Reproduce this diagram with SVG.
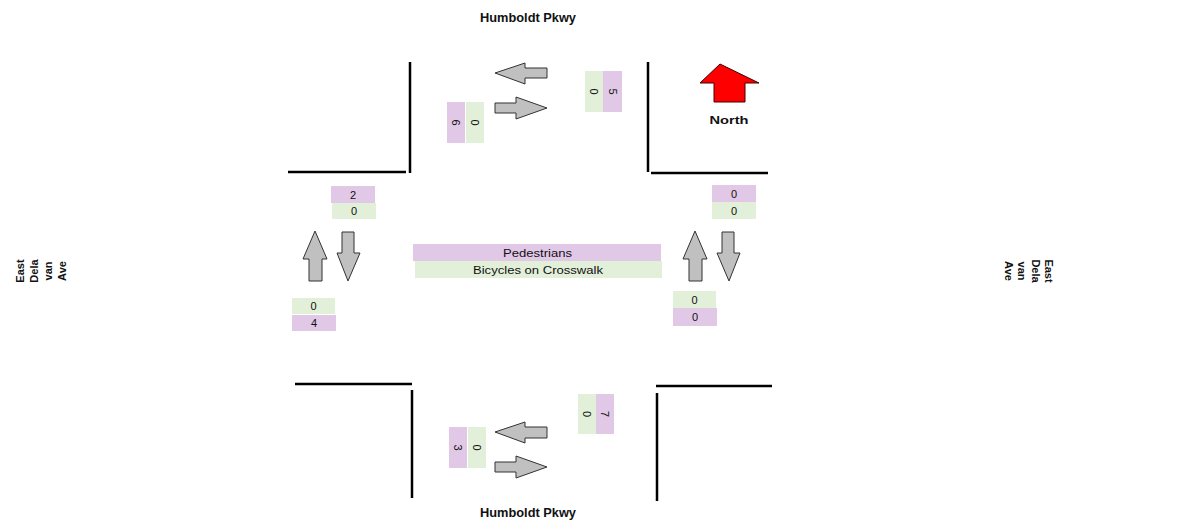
<svg xmlns="http://www.w3.org/2000/svg" width="1177" height="529" viewBox="0 0 1177 529">
<style>
text{font-family:"Liberation Sans",Arial,sans-serif;fill:#111;}
.lbl{font-weight:bold;text-anchor:middle;}
.num{font-size:11px;text-anchor:middle;}
.curb{stroke:#000;stroke-width:2.5;fill:none;}
.arr{fill:#c0c0c0;stroke:#333;stroke-width:1;}
.pk{fill:#e1c8e6;}
.gr{fill:#e2efd9;}
</style>
<rect width="1177" height="529" fill="#fff"/>
<g id="connectors">
<path class="curb" d="M410,62 V173 M288,172 H406"/>
<path class="curb" d="M648,62 V172 M651,173 H768"/>
<path class="curb" d="M295,384 H412 M412,390 V498"/>
<path class="curb" d="M656,386 H772 M657,393 V501"/>
</g>
<g id="labels">
<text class="lbl" x="528" y="22" font-size="12" textLength="96" lengthAdjust="spacingAndGlyphs">Humboldt Pkwy</text>
<text class="lbl" x="528" y="517" font-size="12" textLength="96" lengthAdjust="spacingAndGlyphs">Humboldt Pkwy</text>
<g font-size="11">
<text class="lbl" transform="translate(20,271) rotate(-90)" y="4">East</text>
<text class="lbl" transform="translate(34,271) rotate(-90)" y="4">Dela</text>
<text class="lbl" transform="translate(48,271) rotate(-90)" y="4">van</text>
<text class="lbl" transform="translate(62,271) rotate(-90)" y="4">Ave</text>
<text class="lbl" transform="translate(1049,271) rotate(90)" y="4">East</text>
<text class="lbl" transform="translate(1035.5,271) rotate(90)" y="4">Dela</text>
<text class="lbl" transform="translate(1022,271) rotate(90)" y="4">van</text>
<text class="lbl" transform="translate(1008.5,271) rotate(90)" y="4">Ave</text>
</g>
</g>
<g id="north">
<polygon points="720,64 759,83 745,83 745,102 714,102 714,83 700,83" fill="#ff0000" stroke="#400" stroke-width="1"/>
<text class="lbl" x="729" y="124" font-size="11.5" textLength="39" lengthAdjust="spacingAndGlyphs">North</text>
</g>
<g id="north-approach">
<polygon class="arr" points="495,73 525,63 525,68 547,68 547,78 525,78 525,84"/>
<polygon class="arr" points="495,103 516,103 516,97 547,108 516,119 516,113 495,113"/>
<rect class="pk" x="447" y="102" width="18" height="41"/>
<rect class="gr" x="466" y="102" width="18" height="41"/>
<text class="num" transform="translate(456,122.5) rotate(90)" y="4">6</text>
<text class="num" transform="translate(475,122.5) rotate(90)" y="4">0</text>
<rect class="gr" x="585" y="71" width="18" height="41"/>
<rect class="pk" x="603" y="71" width="19" height="41"/>
<text class="num" transform="translate(594,91.5) rotate(90)" y="4">0</text>
<text class="num" transform="translate(612.5,91.5) rotate(90)" y="4">5</text>
</g>
<g id="west-approach">
<polygon class="arr" points="315,231 327,259 322,259 322,281 309,281 309,259 303,259"/>
<polygon class="arr" points="342,232 354,232 354,253 360,253 348,281 337,253 342,253"/>
<rect class="pk" x="331" y="186" width="44" height="17"/>
<rect class="gr" x="332" y="203" width="44" height="16"/>
<text class="num" x="353" y="198.5">2</text>
<text class="num" x="354" y="215">0</text>
<rect class="gr" x="292" y="298" width="43" height="16"/>
<rect class="pk" x="292" y="315" width="44" height="16"/>
<text class="num" x="313.5" y="310">0</text>
<text class="num" x="314" y="327">4</text>
</g>
<g id="east-approach">
<polygon class="arr" points="695,231 707,259 702,259 702,281 689,281 689,259 683,259"/>
<polygon class="arr" points="722,232 734,232 734,253 740,253 729,281 717,253 722,253"/>
<rect class="pk" x="712" y="185" width="44" height="17"/>
<rect class="gr" x="712" y="202" width="44" height="17"/>
<text class="num" x="734" y="197.5">0</text>
<text class="num" x="734" y="214.5">0</text>
<rect class="gr" x="673" y="291" width="43" height="17"/>
<rect class="pk" x="673" y="308" width="44" height="18"/>
<text class="num" x="694.5" y="303.5">0</text>
<text class="num" x="695" y="321">0</text>
</g>
<g id="legend">
<rect class="pk" x="413" y="244" width="248" height="17"/>
<rect class="gr" x="415" y="261" width="247" height="17"/>
<text class="num" x="537.5" y="256.5" textLength="69" lengthAdjust="spacingAndGlyphs">Pedestrians</text>
<text class="num" x="538" y="273.5" textLength="130" lengthAdjust="spacingAndGlyphs">Bicycles on Crosswalk</text>
</g>
<g id="south-approach">
<polygon class="arr" points="495,432 525,422 525,427 547,427 547,438 525,438 525,443"/>
<polygon class="arr" points="495,462 516,462 516,456 547,467 516,478 516,472 495,472"/>
<rect class="pk" x="449" y="427" width="18" height="41"/>
<rect class="gr" x="468" y="427" width="18" height="41"/>
<text class="num" transform="translate(458,447.5) rotate(90)" y="4">3</text>
<text class="num" transform="translate(477,447.5) rotate(90)" y="4">0</text>
<rect class="gr" x="578" y="394" width="18" height="40"/>
<rect class="pk" x="596" y="394" width="18" height="40"/>
<text class="num" transform="translate(587,414) rotate(90)" y="4">0</text>
<text class="num" transform="translate(605,414) rotate(90)" y="4">7</text>
</g>
</svg>
